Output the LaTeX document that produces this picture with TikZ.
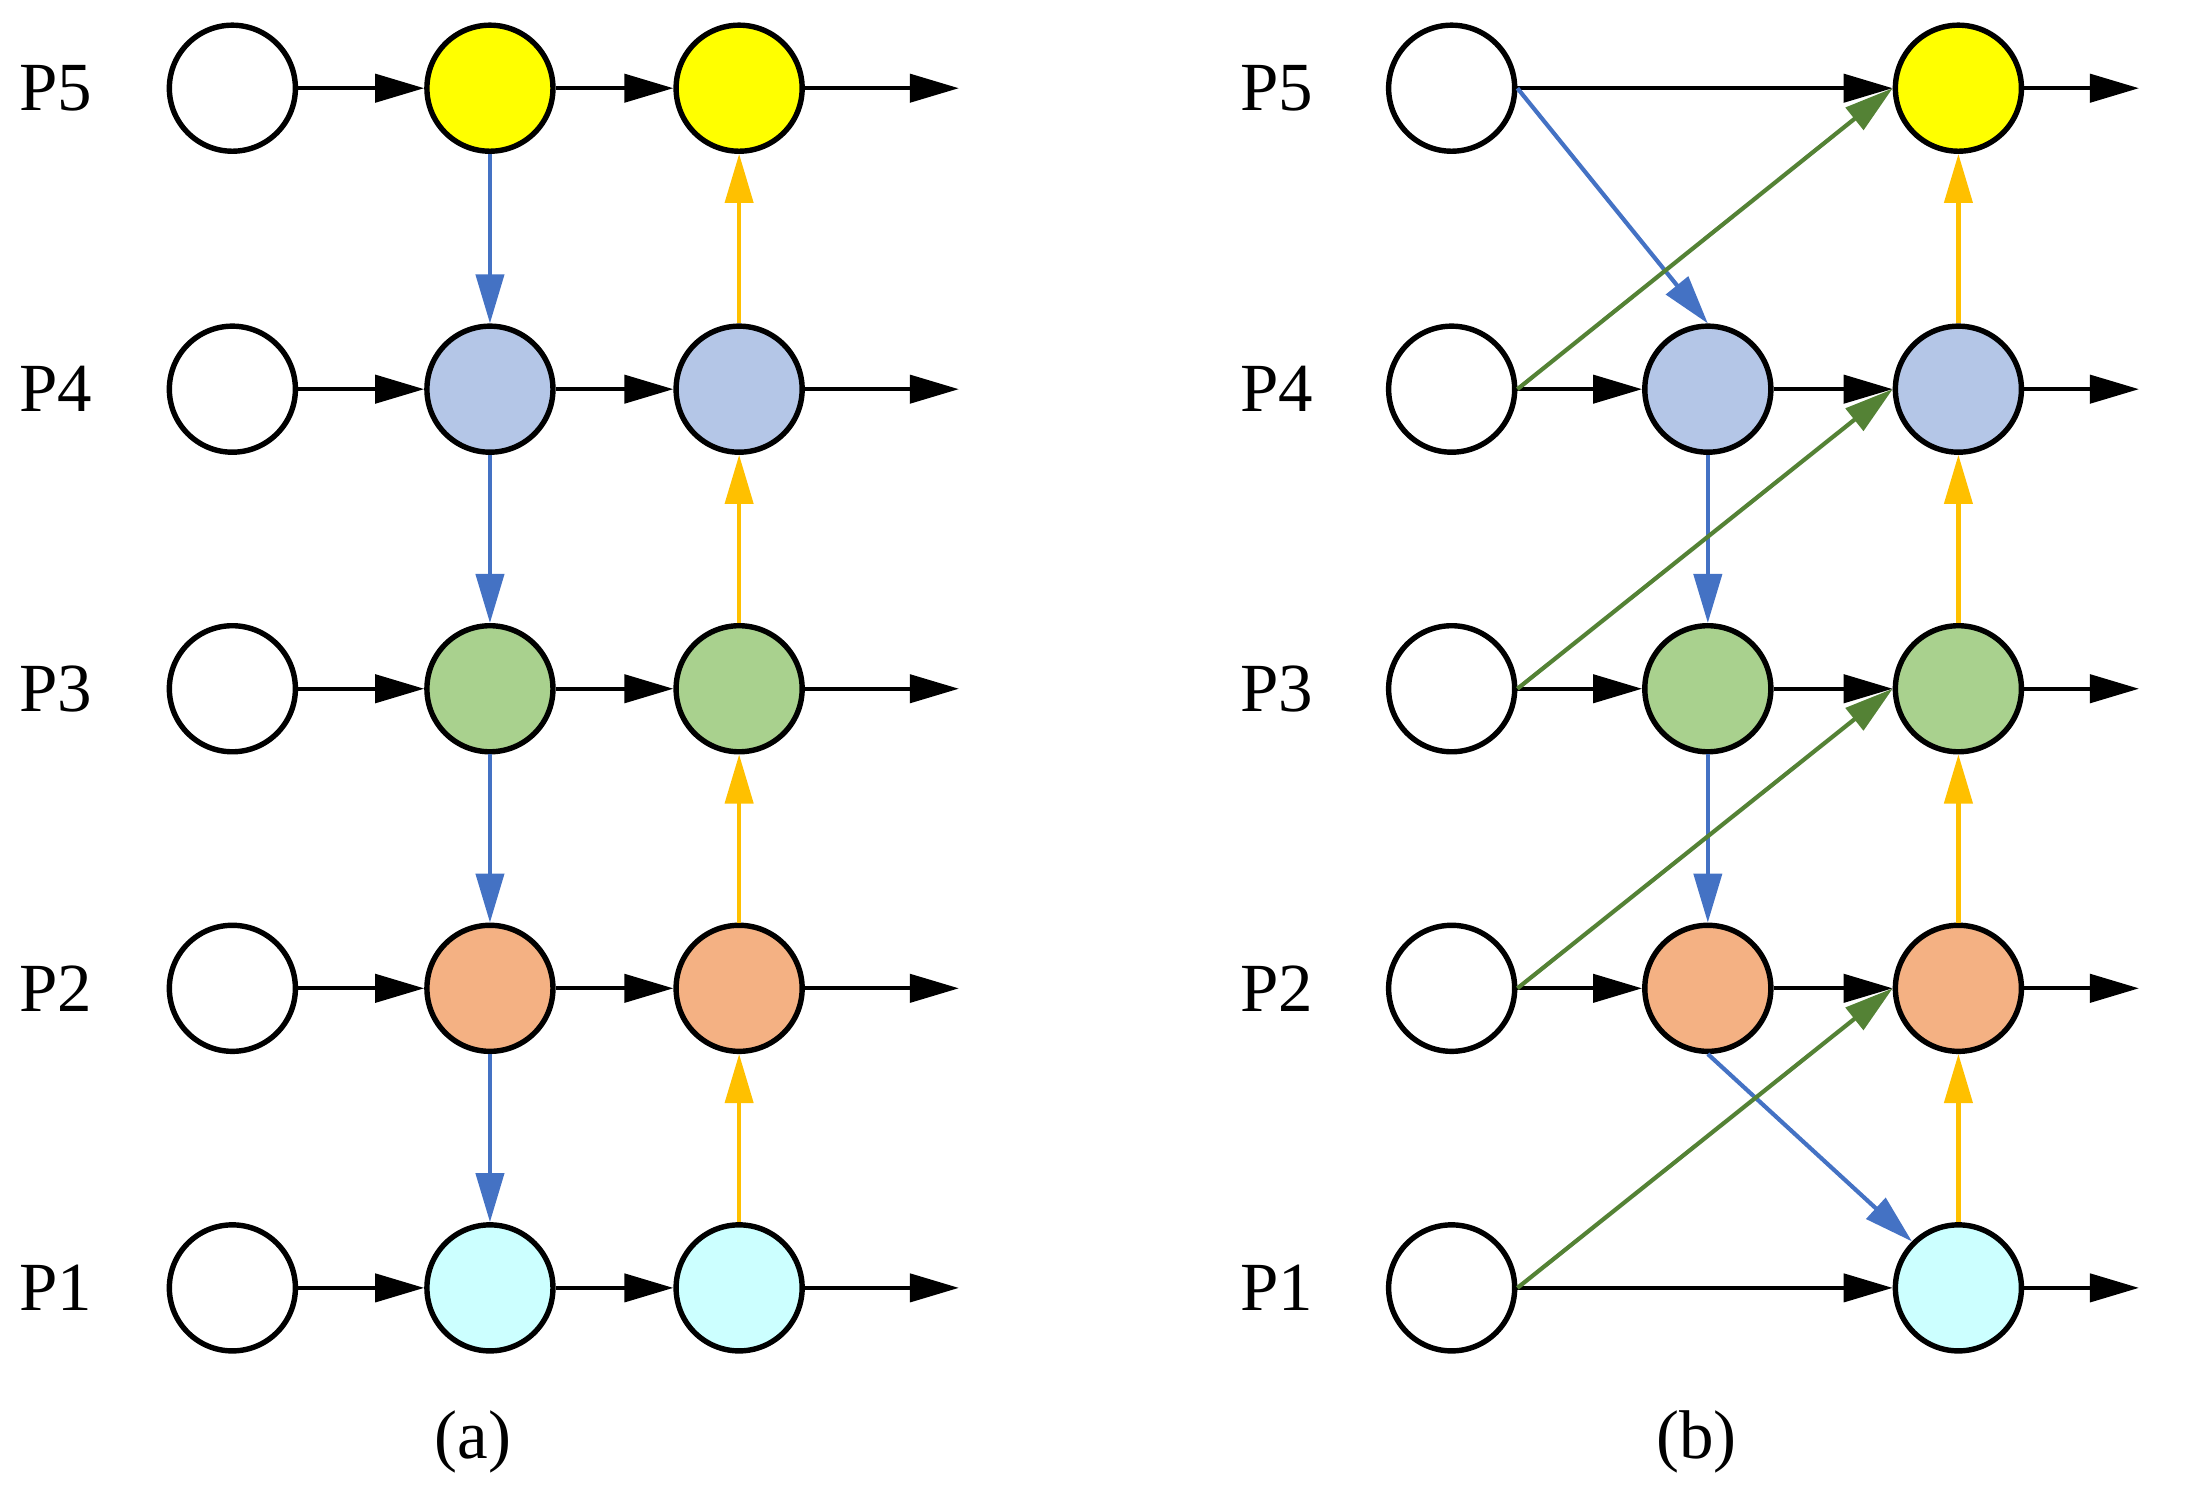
\documentclass[tikz,border=0pt]{standalone}
\usepackage{fontspec}
\setmainfont{Liberation Serif}
\usetikzlibrary{arrows.meta}
\definecolor{cy}{HTML}{FFFF00}\definecolor{cb}{HTML}{B4C6E7}\definecolor{cg}{HTML}{A9D18E}
\definecolor{co}{HTML}{F4B183}\definecolor{cc}{HTML}{CCFFFF}
\definecolor{lb}{HTML}{4472C4}\definecolor{lo}{HTML}{FFC000}\definecolor{lg}{HTML}{548235}
\begin{document}
\begin{tikzpicture}[x=0.01cm,y=-0.01cm,
 nd/.style={circle,draw=black,line width=1.1pt,minimum size=0.9cm,inner sep=0pt},
 ar/.style={line width=0.85pt,-{Triangle[length=0.35cm,width=0.2cm]}},
 lab/.style={font=\fontsize{14}{16}\selectfont}]
\useasboundingbox (0,0) rectangle (1568,1069);
\foreach \c/\i/\y in {cy/5/63,cb/4/278,cg/3/492,co/2/706,cc/1/920}{
 \node[lab] (la\i) at (40,\y) {P\i};
 \node[lab] (lb\i) at (912,\y) {P\i};
 \node[nd] (a0\i) at (166,\y) {};
 \node[nd,fill=\c] (a1\i) at (350,\y) {};
 \node[nd,fill=\c] (a2\i) at (528,\y) {};
 \coordinate (ae\i) at (685,\y);
 \node[nd] (b0\i) at (1037,\y) {};
 \node[nd,fill=\c] (b2\i) at (1399,\y) {};
 \coordinate (be\i) at (1528,\y);
 \draw[ar] (a0\i)--(a1\i); \draw[ar] (a1\i)--(a2\i); \draw[ar] (a2\i)--(ae\i);
 \draw[ar] (b2\i)--(be\i);
}
\foreach \c/\i/\y in {cb/4/278,cg/3/492,co/2/706}{
 \node[nd,fill=\c] (b1\i) at (1220,\y) {};
 \draw[ar] (b0\i)--(b1\i); \draw[ar] (b1\i)--(b2\i);
}
\draw[ar] (b05)--(b25); \draw[ar] (b01)--(b21);
\foreach \i/\j in {5/4,4/3,3/2,2/1}{
 \draw[ar,lb] (a1\i)--(a1\j); \draw[ar,lo] (a2\j)--(a2\i);
 \draw[ar,lo] (b2\j)--(b2\i);
}
\draw[ar,lb] (b14)--(b13); \draw[ar,lb] (b13)--(b12);
\draw[ar,lb] (b05.east)--(b14.north);
\draw[ar,lb] (b12.south)--(b21.north west);
\foreach \i/\j in {4/5,3/4,2/3,1/2}{
 \draw[ar,lg] (b0\i.east)--(b2\j.west);
}
\node[lab] (ca) at (338,1030) {(a)};
\node[lab] (cb) at (1212,1030) {(b)};
\end{tikzpicture}
\end{document}
